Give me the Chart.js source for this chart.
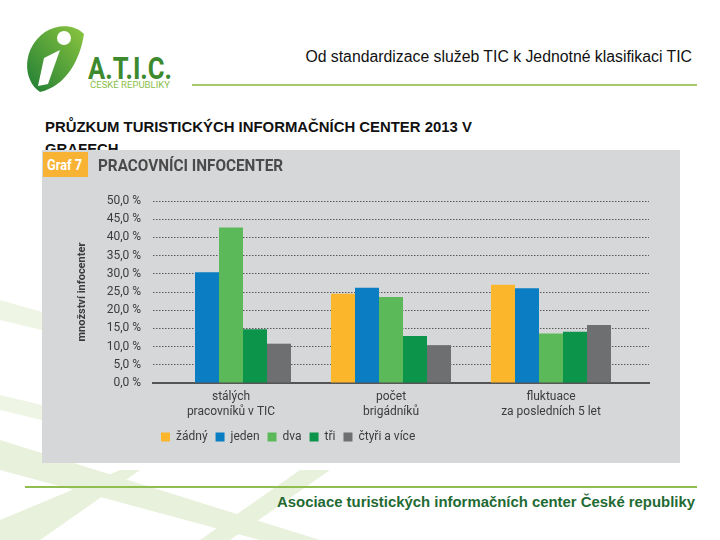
<!DOCTYPE html>
<html>
<head>
<meta charset="utf-8">
<script src="https://cdn.jsdelivr.net/npm/chart.js@4.4.1/dist/chart.umd.min.js"></script>
<style>
  html, body { margin: 0; padding: 0; background: #fff; }
  body { width: 720px; height: 540px; position: relative; overflow: hidden; font-family: 'Liberation Sans', Arial, sans-serif; }
  .abs { position: absolute; }
  #header-text { right: 28px; top: 48px; font-size: 15.8px; color: #111; white-space: nowrap; }
  #header-line { left: 192px; top: 84px; width: 505px; height: 2px; background: #a7c96b; }
  #page-title { left: 45px; top: 116px; font-size: 14.9px; font-weight: bold; color: #111; line-height: 22px; white-space: nowrap; }
  #chart-box { left: 42px; top: 150px; width: 638px; height: 313px; background: #d6d7d9; }
  #graf-tag { left: 43px; top: 152px; width: 45px; height: 25px; background: #f8b334; }
  #graf-tag span { position: absolute; left: 4px; top: 4px; color: #fff; font: bold 15px Roboto, sans-serif; white-space: nowrap; transform: scaleX(0.85); transform-origin: 0 0; }
  #graf-title { left: 98px; top: 155px; font: bold 17px Roboto, sans-serif; color: #4a4a4a; white-space: nowrap; transform: scaleX(0.9); transform-origin: 0 0; }
  #footer-line { left: 25px; top: 486px; width: 672px; height: 2px; background: #8fbd52; }
  #footer-text { right: 25px; top: 494px; font-size: 14.9px; font-weight: bold; color: #1f6a33; white-space: nowrap; }
</style>
</head>
<body>
<svg class="abs" style="left:0;top:0" width="720" height="540">
  <g fill="#e8f1db">
    <polygon points="0,440 0,470 260,540 320,540"/>
    <polygon points="0,520 0,540 40,540 140,470 120,470"/>
    <polygon points="200,540 230,540 330,470 300,470"/>
  </g>
  <g fill="#eef5e4">
    <polygon points="0,300 0,320 42,330 42,312"/>
    <polygon points="0,395 0,410 42,420 42,405"/>
  </g>
  <defs>
    <linearGradient id="lg" x1="0" y1="1" x2="1" y2="0">
      <stop offset="0" stop-color="#1f7d35"/>
      <stop offset="1" stop-color="#8cc63f"/>
    </linearGradient>
  </defs>
  <path d="M40,92 C22,80 22,48 45,32 C58,24 74,24 84,34 C80,60 66,86 40,92 Z" fill="url(#lg)"/>
  <circle cx="64" cy="38" r="7" fill="#fff"/>
  <path d="M44,58 L60,50 L48,84 L38,86 Z" fill="#fff"/>
  <text x="88" y="79" textLength="84" lengthAdjust="spacingAndGlyphs" font-family="Roboto, sans-serif" font-weight="bold" font-size="31" fill="#3d8a2e">A.T.I.C.</text>
  <text x="90" y="88" textLength="80" lengthAdjust="spacingAndGlyphs" font-family="Roboto, sans-serif" font-size="9.5" fill="#8cc04b">ČESKÉ REPUBLIKY</text>
</svg>
<div id="header-text" class="abs">Od standardizace služeb TIC k Jednotné klasifikaci TIC</div>
<div id="header-line" class="abs"></div>
<div id="page-title" class="abs">PRŮZKUM TURISTICKÝCH INFORMAČNÍCH CENTER 2013 V<br>GRAFECH</div>
<div id="chart-box" class="abs"><canvas id="grafChart"></canvas></div>
<div id="graf-tag" class="abs"><span>Graf 7</span></div>
<div id="graf-title" class="abs">PRACOVNÍCI INFOCENTER</div>
<div id="footer-line" class="abs"></div>
<div id="footer-text" class="abs">Asociace turistických informačních center České republiky</div>

<script>
// Definitions
const CATEGORIES = [
  ['stálých', 'pracovníků v TIC'],
  ['počet', 'brigádníků'],
  ['fluktuace', 'za posledních 5 let']
];
const SERIES_NAMES = ['žádný', 'jeden', 'dva', 'tři', 'čtyři a více'];
const ZADNY = [0, 24.5, 27.0];
const JEDEN = [30.4, 26.2, 26.0];
const DVA = [42.7, 23.6, 13.6];
const TRI = [14.8, 12.9, 14.1];
const CTYRI = [10.8, 10.4, 15.9];
const Y_MIN = 0;
const Y_MAX = 50;
const Y_STEP = 5;

const COLORS = ['#fbb62b', '#0b7dc3', '#5cb95a', '#0c944a', '#6e6f71'];
const FONT = "Roboto, 'Liberation Sans', sans-serif";

const SERIES = [ZADNY, JEDEN, DVA, TRI, CTYRI];

new Chart(document.getElementById('grafChart').getContext('2d'), {
  type: 'bar',
  data: {
    datasets: SERIES.map((values, s) => ({
      label: SERIES_NAMES[s],
      data: values.map((v, i) => ({ x: i, y: v })),
      backgroundColor: COLORS[s],
      borderWidth: 0,
      categoryPercentage: 0.75,
      barPercentage: 1.0
    }))
  },
  options: {
    responsive: true,
    maintainAspectRatio: false,
    animation: false,
    layout: { padding: { top: 51, right: 31, left: 30, bottom: 10 } },
    plugins: {
      legend: {
        position: 'bottom',
        align: 'start',
        fullSize: false,
        labels: {
          boxWidth: 9,
          boxHeight: 9,
          padding: 8,
          color: '#3c3c3c',
          font: { family: FONT, size: 12 }
        }
      },
      tooltip: { enabled: false }
    },
    scales: {
      x: {
        type: 'linear',
        min: -0.4875,
        max: 2.6125,
        offset: false,
        afterBuildTicks: (scale) => {
          scale.ticks = scale.ticks.filter(t => Number.isInteger(t.value));
        },
        afterFit: (scale) => { scale.height = 40; },
        grid: { display: false, drawTicks: false },
        border: { display: true, color: '#555', width: 2 },
        ticks: {
          stepSize: 1,
          autoSkip: false,
          maxRotation: 0,
          padding: 7,
          color: '#3c3c3c',
          font: { family: FONT, size: 12, lineHeight: 1.2 },
          callback: (v) => Number.isInteger(v) && CATEGORIES[v] ? CATEGORIES[v] : ''
        }
      },
      y: {
        min: Y_MIN,
        max: Y_MAX,
        afterFit: (scale) => { scale.width = 81; },
        grid: {
          color: (ctx) => ctx.tick && ctx.tick.value === 0 ? 'rgba(0,0,0,0)' : '#5a5a5a',
          lineWidth: 1,
          drawTicks: false
        },
        border: { display: false, dash: [1.5, 1.5] },
        title: {
          display: true,
          text: 'množství infocenter',
          color: '#3c3c3c',
          padding: { top: 4, bottom: 4 },
          font: { family: FONT, size: 11, weight: 'bold' }
        },
        ticks: {
          stepSize: Y_STEP,
          padding: 12,
          color: '#3c3c3c',
          font: { family: FONT, size: 12 },
          callback: (v) => v.toFixed(1).replace('.', ',') + ' %'
        }
      }
    }
  }
});
</script>
</body>
</html>
